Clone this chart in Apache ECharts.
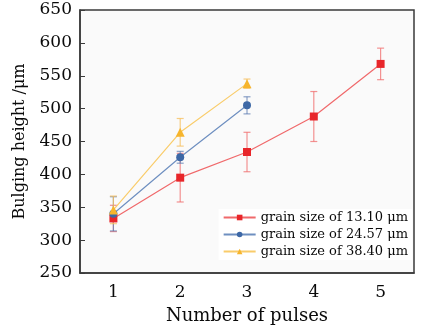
<!DOCTYPE html>
<html><head><meta charset="utf-8">
<script src="https://cdn.jsdelivr.net/npm/echarts@6/dist/echarts.min.js"></script>
<style>html,body{margin:0;padding:0;background:#fff}#c{width:422px;height:330px}</style>
</head><body><div id="c"></div>
<script>
const categories = ['1','2','3','4','5'];
const seriesNames = ['grain size of 13.10 μm','grain size of 24.57 μm','grain size of 38.40 μm'];
const red = [333, 395, 434, 488, 568];
const redErr = [20, 37, 30, 38, 24];
const blue = [340, 426, 505];
const blueErr = [26, 9, 13];
const yellow = [346, 464, 538];
const yellowErr = [21, 21, 7];
const yTicks = [250, 650, 50];

const colors = ['#e8262a', '#3d68a6', '#f6b52d'];
const lineColors = ['#f0696b', '#6e8fc0', '#f9cc6a'];
const errColors = ['rgba(240,110,110,0.75)', 'rgba(100,130,180,0.75)', 'rgba(245,190,90,0.75)'];
const font = 'DejaVu Serif';
const txt = '#0a0a0a';
const axisCol = '#3a3a3a';

function errSeries(vals, errs, idx) {
  return {
    type: 'custom', z: 1, silent: true,
    data: vals.map((v, i) => [i, v - errs[i], v + errs[i]]),
    renderItem: function (params, api) {
      const lo = api.coord([api.value(0), api.value(1)]);
      const hi = api.coord([api.value(0), api.value(2)]);
      const w = 3.5;
      const st = { stroke: errColors[idx], lineWidth: 1.2 };
      return { type: 'group', children: [
        { type: 'line', shape: { x1: lo[0], y1: lo[1], x2: hi[0], y2: hi[1] }, style: st },
        { type: 'line', shape: { x1: lo[0] - w, y1: lo[1], x2: lo[0] + w, y2: lo[1] }, style: st },
        { type: 'line', shape: { x1: hi[0] - w, y1: hi[1], x2: hi[0] + w, y2: hi[1] }, style: st }
      ]};
    }
  };
}
function lineSeries(name, vals, idx, symbol, size) {
  return {
    name: name, type: 'line', data: vals, z: 3,
    symbol: symbol, symbolSize: size,
    itemStyle: { color: colors[idx] },
    lineStyle: { color: lineColors[idx], width: 1.2 }
  };
}

const chart = echarts.init(document.getElementById('c'), null, { renderer: 'canvas' });
chart.setOption({
  animation: false,
  backgroundColor: '#fff',
  grid: { left: 80, right: 8, top: 10, bottom: 49, show: true, borderColor: axisCol, borderWidth: 1.5, backgroundColor: '#fafafa' },
  legend: {
    data: seriesNames, orient: 'vertical', right: 10, top: 209,
    itemWidth: 32, itemHeight: 7, itemGap: 4,
    backgroundColor: '#ffffff', padding: [2, 4, 2, 4],
    textStyle: { fontFamily: font, fontSize: 13, color: txt, lineHeight: 13 }
  },
  xAxis: {
    type: 'category', data: categories, boundaryGap: true,
    name: 'Number of pulses', nameLocation: 'middle', nameGap: 34,
    nameTextStyle: { fontFamily: font, fontSize: 18, color: txt },
    axisLine: { lineStyle: { color: axisCol, width: 1.5 } },
    axisTick: { alignWithLabel: true, inside: true, length: 5, lineStyle: { color: axisCol } },
    axisLabel: { fontFamily: font, fontSize: 17, color: txt, margin: 11 },
    splitLine: { show: false }
  },
  yAxis: {
    type: 'value', min: yTicks[0], max: yTicks[1], interval: yTicks[2],
    name: 'Bulging height /μm', nameLocation: 'middle', nameGap: 52,
    nameTextStyle: { fontFamily: font, fontSize: 16, color: txt },
    axisLine: { show: true, lineStyle: { color: axisCol, width: 1.5 } },
    axisTick: { show: true, inside: true, length: 5, lineStyle: { color: axisCol } },
    axisLabel: { fontFamily: font, fontSize: 17, color: txt, margin: 8 },
    splitLine: { show: false }
  },
  series: [
    errSeries(red, redErr, 0),
    errSeries(blue, blueErr, 1),
    errSeries(yellow, yellowErr, 2),
    lineSeries(seriesNames[0], red, 0, 'rect', 8),
    lineSeries(seriesNames[1], blue, 1, 'circle', 8),
    lineSeries(seriesNames[2], yellow, 2, 'triangle', 9)
  ]
});
</script></body></html>
